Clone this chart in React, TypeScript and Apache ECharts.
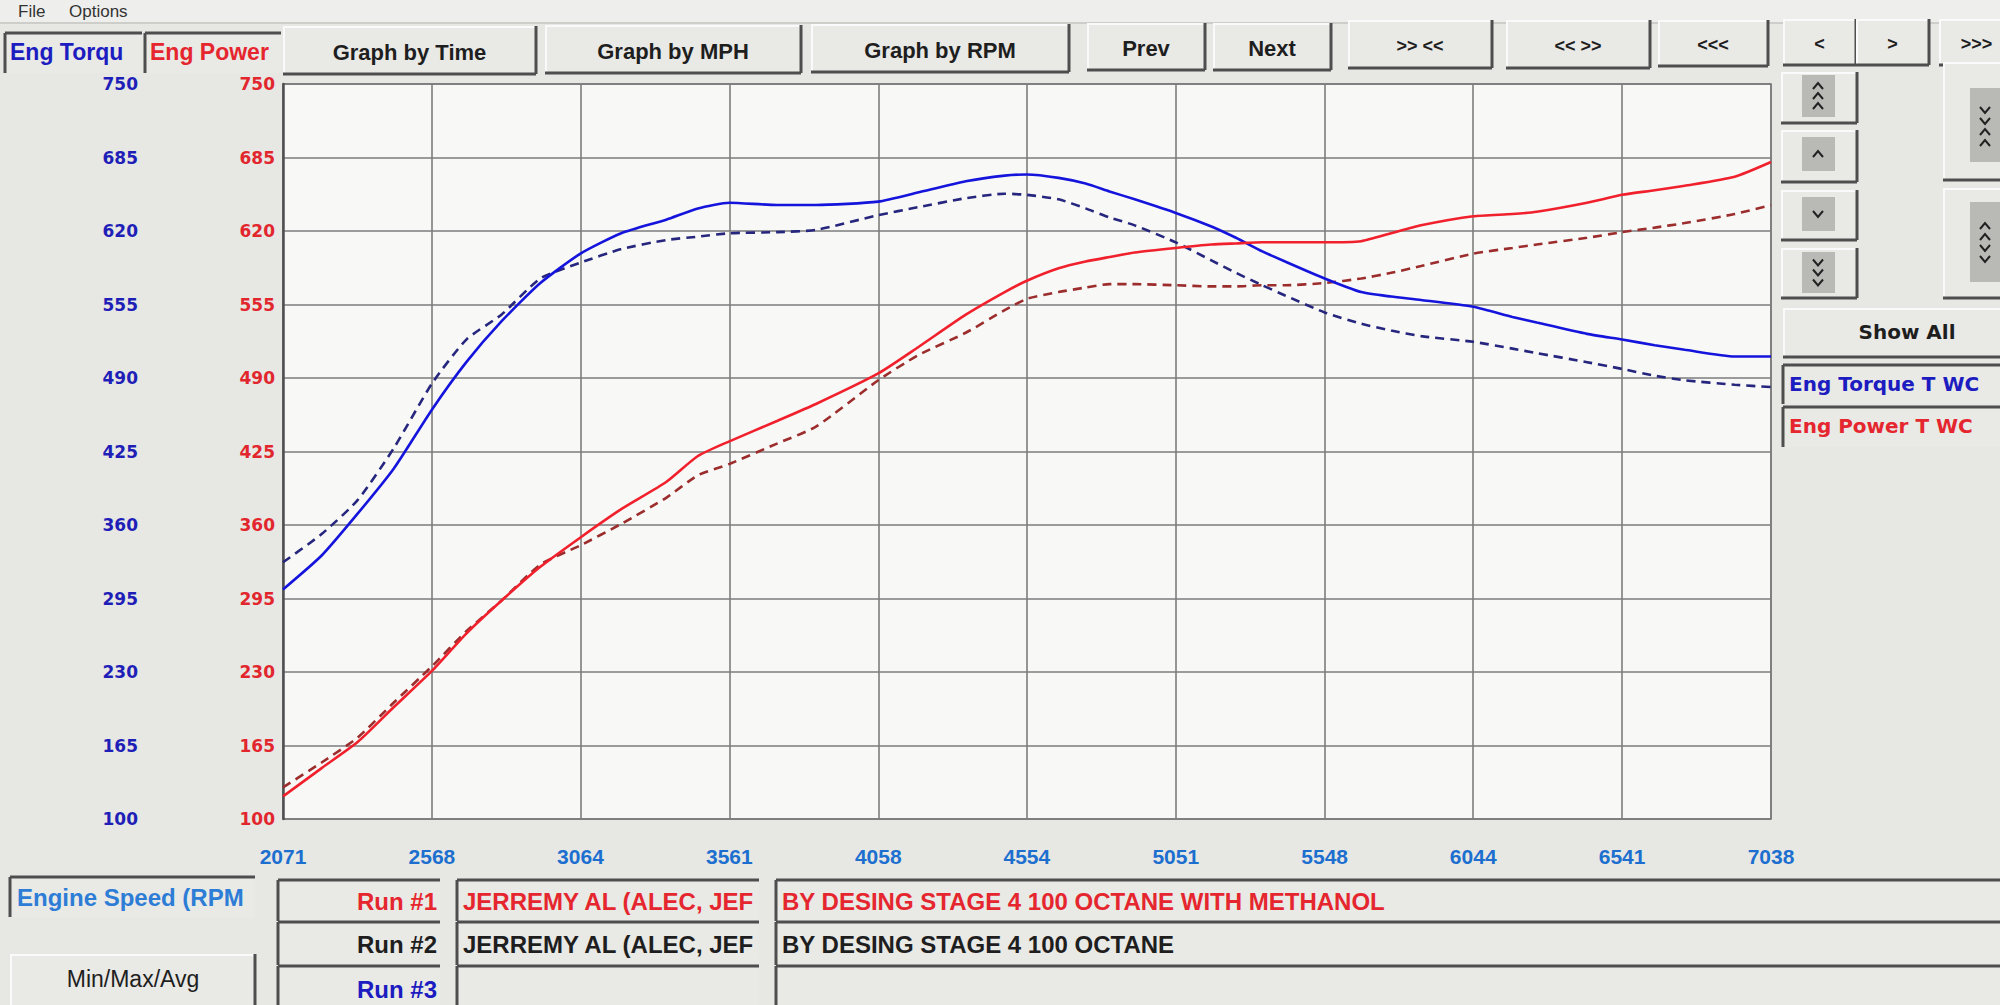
import React, { useEffect, useRef } from "react";
import * as echarts from "echarts";

// ---------- data ----------
const rpmTicks = [2071, 2568, 3064, 3561, 4058, 4554, 5051, 5548, 6044, 6541, 7038];
const yTicks = [100, 165, 230, 295, 360, 425, 490, 555, 620, 685, 750];

const rpm = [
  2071, 2200, 2320, 2441, 2568, 2683, 2800, 2930, 3064, 3200, 3350, 3456, 3561, 3720,
  3850, 4058, 4190, 4350, 4480, 4554, 4660, 4750, 4830, 4914, 5051, 5170, 5252, 5340,
  5416, 5548, 5670, 5770, 5870, 6044, 6175, 6256, 6424, 6541, 6650, 6750, 6917, 7038,
];
const torqueRun1 = [
  303, 333, 370, 410, 462, 504, 540, 574, 600, 618, 630, 640, 645, 643,
  643, 646, 654, 664, 669, 670, 667, 662, 655, 648, 636, 624, 614, 602,
  593, 578, 566, 562, 559, 553, 544, 539, 529, 524, 519, 515, 509, 509,
];
const torqueRun2 = [
  327, 352, 382, 428, 485, 524, 546, 578, 592, 604, 612, 615, 618, 619,
  621, 634, 641, 649, 653, 652, 648, 640, 632, 625, 610, 594, 583, 572,
  563, 548, 538, 532, 527, 522, 516, 512, 504, 498, 492, 488, 484, 482,
];
const powerRun1 = [
  120, 145, 168, 199, 231, 264, 293, 323, 349, 374, 398, 421, 434, 452,
  467, 494, 517, 546, 566, 576, 587, 593, 597, 601, 605, 608, 609, 610,
  610, 610, 611, 618, 625, 633, 635, 637, 645, 652, 656, 660, 668, 681,
];
const powerRun2 = [
  128, 150, 172, 203, 235, 266, 293, 325, 342, 361, 384, 404, 414, 432,
  447, 488, 510, 530, 550, 560, 566, 570, 573, 573, 572, 571, 571, 572,
  572, 574, 578, 583, 589, 600, 605, 608, 614, 619, 623, 627, 635, 643,
];

const runNames = ["JERREMY AL (ALEC, JEF", "JERREMY AL (ALEC, JEF"];
const runNotes = ["BY DESING STAGE 4 100 OCTANE WITH METHANOL", "BY DESING STAGE 4 100 OCTANE"];

// ---------- styling helpers ----------
const FA = "'Liberation Sans', Arial, sans-serif";
const FV = "'DejaVu Sans', Verdana, sans-serif";
const FACE = "#e9e9e6";
const DARK = "#4e4e4e";

const rect = (x: number, y: number, w: number, h: number, fill: string, stroke = "none", lw = 0) => ({
  type: "rect",
  silent: true,
  shape: { x, y, width: w, height: h },
  style: { fill, stroke, lineWidth: lw },
});
const line = (x1: number, y1: number, x2: number, y2: number, stroke: string, lw: number) => ({
  type: "line",
  silent: true,
  shape: { x1, y1, x2, y2 },
  style: { stroke, lineWidth: lw },
});
const chevron = (cx: number, cy: number, up: boolean) => ({
  type: "polyline",
  silent: true,
  z: 10,
  shape: {
    points: up
      ? [[cx - 5, cy + 3], [cx, cy - 3], [cx + 5, cy + 3]]
      : [[cx - 5, cy - 3], [cx, cy + 3], [cx + 5, cy - 3]],
  },
  style: { stroke: "#222", lineWidth: 2, fill: "none" },
});
const text = (x: number, y: number, str: string, fill: string, font: string, align = "left") => ({
  type: "text",
  silent: true,
  x,
  y,
  z: 10,
  style: {
    text: str,
    fill,
    font,
    align,
    verticalAlign: "middle",
    textAlign: align,
    textVerticalAlign: "middle",
  },
});
const raised = (x: number, y: number, w: number, h: number) => [
  rect(x, y, w, h, FACE),
  line(x, y + 1, x + w, y + 1, "#fafafa", 2),
  line(x + 1, y, x + 1, y + h, "#fafafa", 2),
  line(x, y + h, x + w, y + h, DARK, 3),
  line(x + w, y, x + w, y + h, DARK, 3),
];
const sunken = (x: number, y: number, w: number, h: number) => [
  rect(x, y, w, h, FACE),
  line(x, y, x + w, y, DARK, 3),
  line(x, y, x, y + h, DARK, 3),
];

function buildGraphics() {
  const g: any[] = [];
  // menu bar
  g.push(rect(0, 0, 2000, 22, "#eeeeec"));
  g.push(line(0, 23, 2000, 23, "#c4c4c0", 1.5));
  g.push(text(18, 11, "File", "#333", `17px ${FA}`));
  g.push(text(69, 11, "Options", "#333", `17px ${FA}`));

  // header boxes
  g.push(...sunken(5, 33, 137, 40));
  g.push(text(10, 52, "Eng Torqu", "#1c1cc0", `bold 23px ${FA}`));
  g.push(...sunken(145, 33, 136, 40));
  g.push(text(150, 52, "Eng Power", "#e5262e", `bold 23px ${FA}`));

  // top buttons
  const btns: [number, number, number, number, string][] = [
    [283, 26, 253, 48, "Graph by Time"],
    [545, 25, 256, 48, "Graph by MPH"],
    [811, 24, 258, 48, "Graph by RPM"],
    [1087, 23, 118, 47, "Prev"],
    [1213, 23, 118, 47, "Next"],
    [1348, 20, 144, 48, ">> <<"],
    [1506, 20, 144, 48, "<< >>"],
    [1658, 20, 110, 46, "<<<"],
    [1783, 19, 73, 46, "<"],
    [1856, 19, 73, 46, ">"],
    [1939, 19, 75, 46, ">>>"],
  ];
  btns.forEach(([x, y, w, h, l]) => {
    g.push(...raised(x, y, w, h));
    const small = l.includes("<") || l.includes(">");
    g.push(text(x + w / 2, y + h / 2 + 2, l, "#1e1e1e", small ? `bold 18px ${FA}` : `bold 22px ${FA}`, "center"));
  });

  // right small buttons with chevrons
  const smalls: [number, number, number, number, boolean[]][] = [
    [72, 123, 75, 117, [true, true, true]],
    [130, 182, 137, 171, [true]],
    [190, 240, 197, 231, [false]],
    [248, 298, 252, 293, [false, false, false]],
  ];
  smalls.forEach(([y1, y2, iy1, iy2, marks]) => {
    g.push(...raised(1781, y1, 76, y2 - y1));
    g.push(rect(1802, iy1, 33, iy2 - iy1, "#b9b9b6"));
    const mid = (iy1 + iy2) / 2;
    marks.forEach((up, k) => g.push(chevron(1818, mid + (k - (marks.length - 1) / 2) * 10, up)));
  });
  g.push(...raised(1943, 62, 70, 118));
  g.push(rect(1970, 88, 40, 74, "#b9b9b6"));
  [false, false, true, true].forEach((up, k) => g.push(chevron(1985, 110 + k * 11, up)));
  g.push(...raised(1943, 188, 70, 110));
  g.push(rect(1970, 202, 40, 80, "#b9b9b6"));
  [true, true, false, false].forEach((up, k) => g.push(chevron(1985, 226 + k * 11, up)));

  // Show All + legend boxes
  g.push(...raised(1783, 308, 230, 49));
  g.push(text(1907, 332, "Show All", "#1e1e1e", `bold 20px ${FV}`, "center"));
  g.push(...sunken(1783, 365, 230, 39));
  g.push(text(1789, 384, "Eng Torque T WC", "#1c1cc0", `bold 20px ${FV}`));
  g.push(...sunken(1783, 407, 230, 40));
  g.push(text(1789, 426, "Eng Power T WC", "#e5262e", `bold 20px ${FV}`));

  // bottom panels
  g.push(...sunken(10, 877, 245, 40));
  g.push(text(17, 897, "Engine Speed (RPM", "#2d7dd6", `bold 24px ${FA}`));
  g.push(...raised(10, 954, 245, 60));
  g.push(text(133, 979, "Min/Max/Avg", "#1e1e1e", `23px ${FA}`, "center"));

  const rows: [number, number, string][] = [
    [880, 41, "#e5262e"],
    [922, 43, "#1e1e1e"],
    [966, 45, "#1c1cc0"],
  ];
  rows.forEach(([y, h, c], i) => {
    g.push(...sunken(278, y, 162, h));
    g.push(text(437, y + h / 2 + 1, `Run #${i + 1}`, c, `bold 24px ${FA}`, "right"));
    g.push(...sunken(457, y, 302, h));
    g.push(...sunken(776, y, 1230, h));
    if (i < 2) {
      g.push(text(463, y + h / 2 + 1, runNames[i], c, `bold 24px ${FA}`));
      g.push(text(782, y + h / 2 + 1, runNotes[i], c, `bold 24px ${FA}`));
    }
  });
  return g;
}

export default function App() {
  const ref = useRef<HTMLDivElement>(null);
  useEffect(() => {
    if (!ref.current) return;
    const chart = echarts.init(ref.current, undefined, { renderer: "svg" });
    const mk = (vals: number[]) => rpm.map((r, i) => [r, vals[i]]);
    const lineSeries = (name: string, vals: number[], axis: number, color: string, dashed: boolean) => ({
      type: "line",
      name,
      yAxisIndex: axis,
      data: mk(vals),
      showSymbol: false,
      symbol: "none",
      smooth: 0.2,
      z: dashed ? 4 : 5,
      lineStyle: { color, width: 2.6, type: dashed ? [9, 6] : "solid" },
      itemStyle: { color },
    });
    const plain = (v: number) => String(v);
    chart.setOption({
      animation: false,
      backgroundColor: "#e7e8e4",
      grid: {
        left: 283,
        top: 84,
        width: 1488,
        height: 735,
        show: true,
        backgroundColor: "#f8f8f6",
        borderColor: "#6a6a6a",
        borderWidth: 1.5,
      },
      xAxis: {
        type: "value",
        min: 2071,
        max: 7038,
        axisLine: { show: false },
        axisTick: { show: false, customValues: rpmTicks },
        axisLabel: {
          customValues: rpmTicks,
          formatter: plain,
          showMinLabel: true,
          showMaxLabel: true,
          margin: 27,
          color: "#1d6fcf",
          fontFamily: FA,
          fontWeight: "bold",
          fontSize: 21,
        },
        splitLine: { show: true, lineStyle: { color: "#7d7d7d", width: 1.6 } },
      },
      yAxis: [
        {
          type: "value",
          min: 100,
          max: 750,
          position: "left",
          offset: 136,
          axisLine: { show: false },
          axisTick: { show: false, customValues: yTicks },
          axisLabel: {
            customValues: yTicks,
            formatter: plain,
            showMinLabel: true,
            showMaxLabel: true,
            margin: 9,
            color: "#1f1fb8",
            fontFamily: FV,
            fontWeight: "bold",
            fontSize: 17,
          },
          splitLine: { show: true, lineStyle: { color: "#7d7d7d", width: 1.6 } },
        },
        {
          type: "value",
          min: 100,
          max: 750,
          position: "left",
          offset: 0,
          axisLine: { show: true, lineStyle: { color: "#505050", width: 2.5 } },
          axisTick: { show: false, customValues: yTicks },
          axisLabel: {
            customValues: yTicks,
            formatter: plain,
            showMinLabel: true,
            showMaxLabel: true,
            margin: 8,
            color: "#e2262e",
            fontFamily: FV,
            fontWeight: "bold",
            fontSize: 17,
          },
          splitLine: { show: false },
        },
      ],
      series: [
        lineSeries("Eng Torque Run #2", torqueRun2, 0, "#26267e", true),
        lineSeries("Eng Power Run #2", powerRun2, 1, "#9c2d2d", true),
        lineSeries("Eng Torque Run #1", torqueRun1, 0, "#1414dc", false),
        lineSeries("Eng Power Run #1", powerRun1, 1, "#f0202c", false),
      ],
      graphic: { elements: buildGraphics() },
    });
    return () => chart.dispose();
  }, []);
  return <div ref={ref} style={{ position: "absolute", left: 0, top: 0, width: 2000, height: 1005 }} />;
}
